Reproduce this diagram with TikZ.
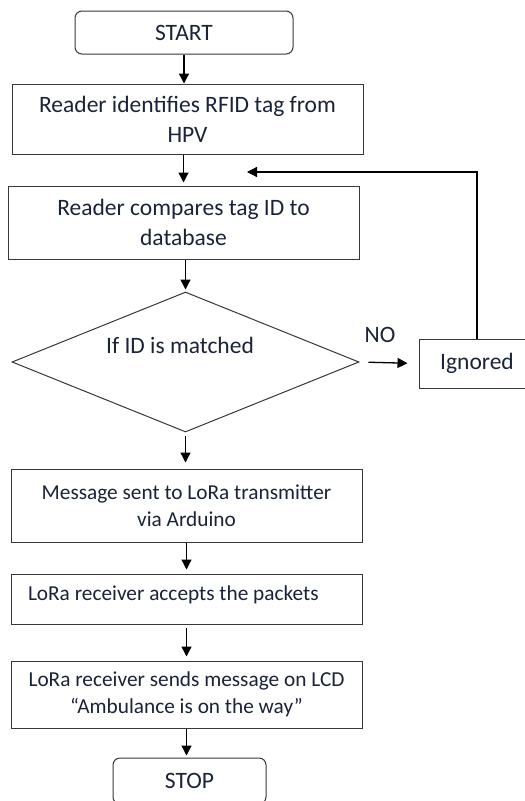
\documentclass[tikz,border=0pt]{standalone}
\usepackage{fontspec}
\setmainfont{Carlito}
\usetikzlibrary{arrows.meta,shapes.geometric}
\definecolor{txt}{HTML}{1B2338}
\definecolor{edge}{HTML}{383838}
\tikzset{
  box/.style={draw=edge, line width=1pt, rectangle, inner sep=0pt, text=txt, align=center},
  term/.style={box, rounded corners=7pt},
  big/.style={font=\fontsize{23.5}{30}\selectfont},
  small/.style={font=\fontsize{21.3}{27}\selectfont},
  arr/.style={draw=black, line width=1.3pt, -{Triangle[length=10pt,width=10pt]}},
  plain/.style={draw=black, line width=1.2pt}
}
\begin{document}
\begin{tikzpicture}[x=1pt,y=-1pt]
\clip (0,0) rectangle (525,801);
\fill[white] (0,0) rectangle (525,801);

\node[term, big, minimum width=218pt, minimum height=43pt] (start) at (184,32.5) {START};
\node[box, big, minimum width=351pt, minimum height=70pt] (b1) at (187.5,119) {Reader identifies RFID tag from\\HPV};
\node[box, big, minimum width=351pt, minimum height=73pt] (b2) at (183.5,222.5) {Reader compares tag ID to\\database};
\node[draw=edge, line width=1pt, diamond, inner sep=0pt, minimum width=347pt, minimum height=140pt] (d) at (185.5,362) {};
\node[big, text=txt] (dtext) at (180,345) {If ID is matched};
\node[big, text=txt] (no) at (380,335) {NO};
\node[box, big, minimum width=116pt, minimum height=49pt] (ign) at (477,363.5) {Ignored};
\node[box, small, minimum width=351pt, minimum height=73pt] (b3) at (186.5,505.5) {Message sent to LoRa transmitter\\via Arduino};
\node[box, small, minimum width=351pt, minimum height=50pt, text height=14pt, text depth=12pt] (b4) at (186.5,599) {\makebox[317pt][l]{LoRa receiver accepts the packets}};
\node[box, small, minimum width=351pt, minimum height=67pt] (b5) at (186.5,694.5) {LoRa receiver sends message on LCD\\``Ambulance is on the way''};
\node[term, big, minimum width=153pt, minimum height=46pt] (stop) at (189.5,781) {STOP};

\coordinate (fb) at (247,172);

\draw[arr] (start.south) -- (start.south |- b1.north);
\draw[arr, shorten >=3pt] (b1.south -| b2.north) -- (b2.north);
\draw[arr, shorten >=2pt] (b2.south -| d.north) -- (d.north);
\draw[arr, shorten <=3pt, shorten >=6pt] (d.south) -- (d.south |- b3.north);
\draw[arr, shorten >=4pt] (b3.south) -- (b4.north);
\draw[arr, shorten <=3pt, shorten >=4pt] (b4.south) -- (b5.north);
\draw[arr, shorten >=2pt] (b5.south) -- (b5.south |- stop.north);
\draw[arr, shorten <=9pt, shorten >=11pt] (d.east) -- (ign.west);
\draw[arr] (ign.north) |- (fb);
\end{tikzpicture}
\end{document}
